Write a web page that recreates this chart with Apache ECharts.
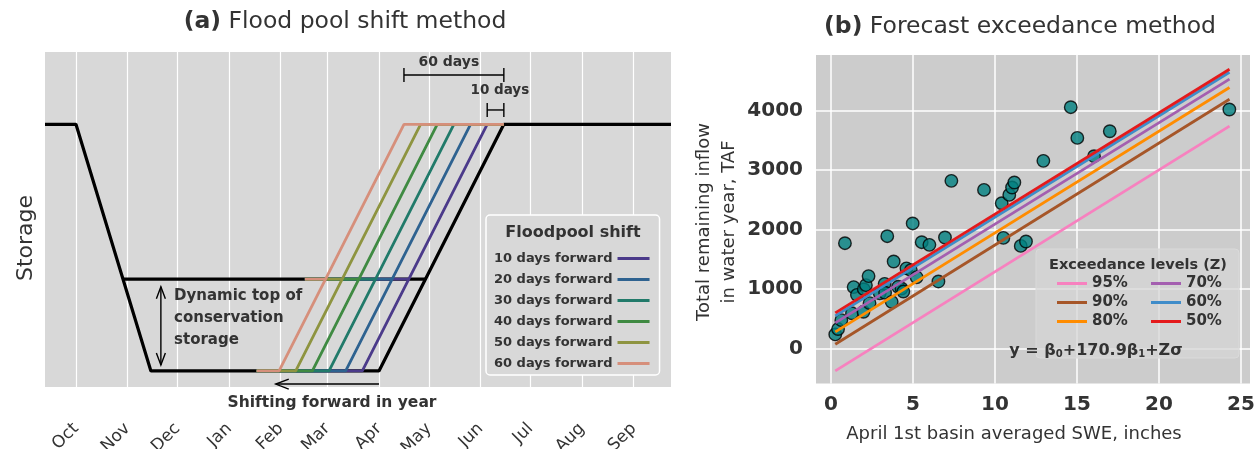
<!DOCTYPE html>
<html>
<head>
<meta charset="utf-8">
<script src="https://cdn.jsdelivr.net/npm/echarts@6/dist/echarts.min.js"></script>
<style>
html, body { margin: 0; padding: 0; background: #fff; }
#chart { width: 1256px; height: 449px; }
</style>
</head>
<body>
<div id="chart"></div>
<script>
// ---- panel (a): x = days after Oct 1, y = relative storage ----
var monthNames = ['Oct', 'Nov', 'Dec', 'Jan', 'Feb', 'Mar', 'Apr', 'May', 'Jun', 'Jul', 'Aug', 'Sep'];
var monthStarts = [0, 31, 61, 92, 123, 151, 182, 212, 243, 273, 304, 335];
var baseRule = [[-18.6, 1], [0, 1], [45, 0], [182, 0], [257, 1], [357.4, 1]];
var conservationTop = [[28.3, 0.372], [209.9, 0.372]];
var shiftNames = ['10 days forward', '20 days forward', '30 days forward', '40 days forward', '50 days forward', '60 days forward'];
var shiftColors = ['#4b3a8a', '#2e6290', '#217a6a', '#3f8a42', '#8e9440', '#d68f7b'];
var shiftLowStart = 108.5;
var shiftLowEnd = [172, 162, 152, 142, 132, 122];
var shiftFullStart = [247, 237, 227, 217, 207, 197];
var shiftFullEnd = 257;
var shiftMidStart = 137.5;
var shiftMidEnd = [199.9, 189.9, 179.9, 169.9, 159.9, 149.9];
var midLevel = 0.372;

// annotation anchors (days, storage)
var bracket60 = [197, 257, 1.2];
var bracket10 = [247, 257, 1.058];
var storageArrow = [51, 0.341, 0.024];
var shiftArrow = [182, 120, -0.053];

// ---- panel (b): April 1st SWE (inches) vs remaining inflow (TAF) ----
var sweIn = [0.26, 0.43, 0.63, 0.85, 1.28, 1.38, 1.58, 1.98, 2.0, 2.13, 2.29, 2.35, 2.97, 3.27, 3.3,
  3.43, 3.7, 3.82, 4.09, 4.3, 4.41, 4.6, 4.87, 4.98, 5.22, 5.53, 6.0, 6.55, 6.95, 7.34,
  9.33, 10.41, 10.51, 10.87, 11.04, 11.18, 11.57, 11.89, 12.95, 14.62, 15.02, 16.04, 17.0, 24.29];
var inflowTaf = [240, 330, 480, 1773, 595, 1035, 905, 620, 1000, 1068, 1220, 765, 930, 1090, 940,
  1891, 787, 1465, 1040, 1012, 960, 1350, 1320, 2105, 1200, 1790, 1745, 1130, 1869, 2821,
  2669, 2445, 1862, 2585, 2709, 2793, 1728, 1801, 3157, 4059, 3543, 3235, 3655, 4020];
var levelNames = ['95%', '90%', '80%', '70%', '60%', '50%'];
var levelColors = ['#f781bf', '#a65628', '#ff8c00', '#a45fb0', '#3f8cc9', '#e41a1c'];
var lineSwe = [0.26, 24.3];
var levelStart = [-373, 75, 283, 434, 551, 602];
var levelEnd = [3740, 4193, 4390, 4530, 4647, 4697];
var sweTicks = [0, 5, 10, 15, 20, 25];
var tafTicks = [0, 1000, 2000, 3000, 4000];

var FONT = 'DejaVu Sans';
var INK = '#333';

var series = [];
series.push({
  type: 'line', name: 'base', xAxisIndex: 0, yAxisIndex: 0, data: baseRule,
  showSymbol: false, lineStyle: { color: '#000', width: 3.2 }, z: 2, silent: true
});
series.push({
  type: 'line', name: 'top', xAxisIndex: 0, yAxisIndex: 0, data: conservationTop,
  showSymbol: false, lineStyle: { color: '#000', width: 3.2 }, z: 2, silent: true
});
shiftNames.forEach(function (n, i) {
  series.push({
    type: 'line', name: n, xAxisIndex: 0, yAxisIndex: 0,
    data: [[shiftLowStart, 0], [shiftLowEnd[i], 0], [shiftFullStart[i], 1], [shiftFullEnd, 1]],
    showSymbol: false, color: shiftColors[i], lineStyle: { width: 2.8 }, z: 3, silent: true
  });
  series.push({
    type: 'line', name: n, xAxisIndex: 0, yAxisIndex: 0,
    data: [[shiftMidStart, midLevel], [shiftMidEnd[i], midLevel]],
    showSymbol: false, color: shiftColors[i], lineStyle: { width: 2.8 }, z: 3, silent: true
  });
});

function arrowHead(tip, ux, uy, len, half) {
  // open V head, (ux, uy) = unit direction the arrow points to
  return {
    type: 'polyline',
    shape: { points: [
      [tip[0] - ux * len - uy * half, tip[1] - uy * len + ux * half],
      tip,
      [tip[0] - ux * len + uy * half, tip[1] - uy * len - ux * half]
    ] },
    style: { stroke: '#000', lineWidth: 1.4, fill: null }
  };
}

function renderNotes(params, api) {
  var ch = [];
  var ln = function (a, b) {
    ch.push({ type: 'line', shape: { x1: a[0], y1: a[1], x2: b[0], y2: b[1] }, style: { stroke: '#000', lineWidth: 1.4 } });
  };
  var txt = function (p, s, size, align, lh) {
    ch.push({ type: 'text', x: p[0], y: p[1], style: {
      text: s, fill: INK, fontFamily: FONT, fontWeight: 'bold', fontSize: size,
      align: align || 'center', verticalAlign: 'middle', lineHeight: lh || size
    } });
  };
  [bracket60, bracket10].forEach(function (b) {
    var a = api.coord([b[0], b[2]]), c = api.coord([b[1], b[2]]);
    ln(a, c);
    ln([a[0], a[1] - 7], [a[0], a[1] + 7]);
    ln([c[0], c[1] - 7], [c[0], c[1] + 7]);
  });
  var t = api.coord([storageArrow[0], storageArrow[1]]);
  var d = api.coord([storageArrow[0], storageArrow[2]]);
  ln(t, d);
  ch.push(arrowHead(t, 0, -1, 12, 4.5));
  ch.push(arrowHead(d, 0, 1, 12, 4.5));
  var s0 = api.coord([shiftArrow[0], shiftArrow[2]]);
  var s1 = api.coord([shiftArrow[1], shiftArrow[2]]);
  ln(s0, s1);
  ch.push(arrowHead(s1, -1, 0, 13, 5));
  txt(api.coord([224, 1.25]), '60 days', 14);
  txt(api.coord([254.6, 1.136]), '10 days', 13.5);
  txt(api.coord([58.9, 0.215]), 'Dynamic top of\nconservation\nstorage', 15, 'left', 22);
  txt(api.coord([153.8, -0.13]), 'Shifting forward in year', 15.5);
  return { type: 'group', children: ch };
}
series.push({
  type: 'custom', name: 'notes', xAxisIndex: 0, yAxisIndex: 0, data: [[0, 0]],
  renderItem: renderNotes, clip: false, silent: true, z: 6
});

series.push({
  type: 'scatter', name: 'obs', xAxisIndex: 1, yAxisIndex: 1,
  data: sweIn.map(function (x, i) { return [x, inflowTaf[i]]; }),
  symbolSize: 12.5, itemStyle: { color: '#008080', borderColor: '#000', borderWidth: 1.4 }, z: 2, silent: true
});
levelNames.forEach(function (n, i) {
  series.push({
    type: 'line', name: n, xAxisIndex: 1, yAxisIndex: 1,
    data: [[lineSwe[0], levelStart[i]], [lineSwe[1], levelEnd[i]]],
    showSymbol: false, color: levelColors[i], lineStyle: { width: 2.8 }, z: 3, silent: true
  });
});

var option = {
  animation: false,
  backgroundColor: '#fff',
  textStyle: { fontFamily: FONT },
  grid: [
    { left: 45, top: 52, width: 626, height: 335, show: true, backgroundColor: '#d8d8d8', borderWidth: 0, outerBoundsMode: 'none' },
    { left: 816, top: 55, width: 434, height: 328.5, show: true, backgroundColor: '#cccccc', borderWidth: 0, outerBoundsMode: 'none' }
  ],
  xAxis: [
    {
      type: 'value', gridIndex: 0, min: -18.6, max: 357.4,
      axisLine: { show: false },
      axisTick: { show: false, customValues: monthStarts },
      splitLine: { show: true, lineStyle: { color: '#fff', width: 1.2 } },
      axisLabel: {
        customValues: monthStarts, rotate: 45, margin: 39, fontSize: 17, color: INK, fontFamily: FONT,
        formatter: function (v) { return monthNames[monthStarts.indexOf(v)] || ''; }
      }
    },
    {
      type: 'value', gridIndex: 1, min: -0.915, max: 25.55,
      axisLine: { show: false },
      axisTick: { show: false, customValues: sweTicks },
      splitLine: { show: true, lineStyle: { color: '#fff', width: 1.5 } },
      axisLabel: { customValues: sweTicks, margin: 11, fontSize: 20, fontWeight: 'bold', color: INK, fontFamily: FONT,
        formatter: function (v) { return String(v); } }
    }
  ],
  yAxis: [
    {
      type: 'value', gridIndex: 0, min: -0.065, max: 1.293,
      axisLine: { show: false }, axisTick: { show: false }, axisLabel: { show: false }, splitLine: { show: false }
    },
    {
      type: 'value', gridIndex: 1, min: -585, max: 4936,
      axisLine: { show: false },
      axisTick: { show: false, customValues: tafTicks },
      splitLine: { show: true, lineStyle: { color: '#fff', width: 1.5 } },
      axisLabel: { customValues: tafTicks, margin: 13, fontSize: 20, fontWeight: 'bold', color: INK, fontFamily: FONT,
        formatter: function (v) { return String(v); } }
    }
  ],
  legend: [
    {
      data: shiftNames, orient: 'vertical', left: 486, top: 215, align: 'right',
      padding: [37, 10, 5, 8], itemGap: 8, itemWidth: 32, itemHeight: 3, icon: 'rect',
      backgroundColor: '#d8d8d8', borderColor: '#fff', borderWidth: 1.5, borderRadius: 4,
      textStyle: { fontFamily: FONT, fontWeight: 'bold', fontSize: 13, color: INK }, selectedMode: false
    },
    {
      data: ['95%', '90%', '80%'], orient: 'vertical', left: 1057, top: 276, align: 'left', padding: 0,
      itemGap: 4, itemWidth: 30, itemHeight: 3, icon: 'rect',
      textStyle: { fontFamily: FONT, fontWeight: 'bold', fontSize: 15, color: INK }, selectedMode: false
    },
    {
      data: ['70%', '60%', '50%'], orient: 'vertical', left: 1151, top: 276, align: 'left', padding: 0,
      itemGap: 4, itemWidth: 30, itemHeight: 3, icon: 'rect',
      textStyle: { fontFamily: FONT, fontWeight: 'bold', fontSize: 15, color: INK }, selectedMode: false
    }
  ],
  graphic: [
    { type: 'rect', z: 1, shape: { x: 1036, y: 249, width: 203, height: 109, r: 4 },
      style: { fill: 'rgba(214,214,214,0.75)', stroke: '#dadada', lineWidth: 1 } },
    { type: 'text', z: 10, x: 488 + 85, y: 233, style: { text: 'Floodpool shift', fill: INK, fontFamily: FONT, fontWeight: 'bold', fontSize: 16, align: 'center', verticalAlign: 'middle' } },
    { type: 'text', z: 10, x: 1138, y: 265, style: { text: 'Exceedance levels (Z)', fill: INK, fontFamily: FONT, fontWeight: 'bold', fontSize: 14.5, align: 'center', verticalAlign: 'middle' } },
    { type: 'text', z: 10, x: 1096, y: 351, style: {
      text: 'y = β{s|0}+170.9β{s|1}+Zσ', fill: INK, fontFamily: FONT, fontWeight: 'bold', fontSize: 16, align: 'center', verticalAlign: 'middle',
      rich: { s: { fontSize: 10, fontWeight: 'bold', fill: INK, fontFamily: FONT, padding: [6, 0, 0, 0] } } } },
    { type: 'text', x: 345, y: 22, style: {
      text: '{b|(a)} Flood pool shift method', fill: INK, fontFamily: FONT, fontSize: 23.5, align: 'center', verticalAlign: 'middle',
      rich: { b: { fontWeight: 'bold', fontSize: 23.5, fill: INK, fontFamily: FONT } } } },
    { type: 'text', x: 1020, y: 27, style: {
      text: '{b|(b)} Forecast exceedance method', fill: INK, fontFamily: FONT, fontSize: 23.5, align: 'center', verticalAlign: 'middle',
      rich: { b: { fontWeight: 'bold', fontSize: 23.5, fill: INK, fontFamily: FONT } } } },
    { type: 'text', x: 26, y: 238, rotation: Math.PI / 2, style: { text: 'Storage', fill: INK, fontFamily: FONT, fontSize: 22, align: 'center', verticalAlign: 'middle' } },
    { type: 'text', x: 717, y: 222, rotation: Math.PI / 2, style: { text: 'Total remaining inflow\nin water year, TAF', fill: INK, fontFamily: FONT, fontSize: 18, lineHeight: 25, align: 'center', verticalAlign: 'middle' } },
    { type: 'text', x: 1014, y: 434, style: { text: 'April 1st basin averaged SWE, inches', fill: INK, fontFamily: FONT, fontSize: 18, align: 'center', verticalAlign: 'middle' } }
  ],
  series: series
};

var chart = echarts.init(document.getElementById('chart'), null, { renderer: 'canvas' });
chart.setOption(option);
</script>
</body>
</html>
